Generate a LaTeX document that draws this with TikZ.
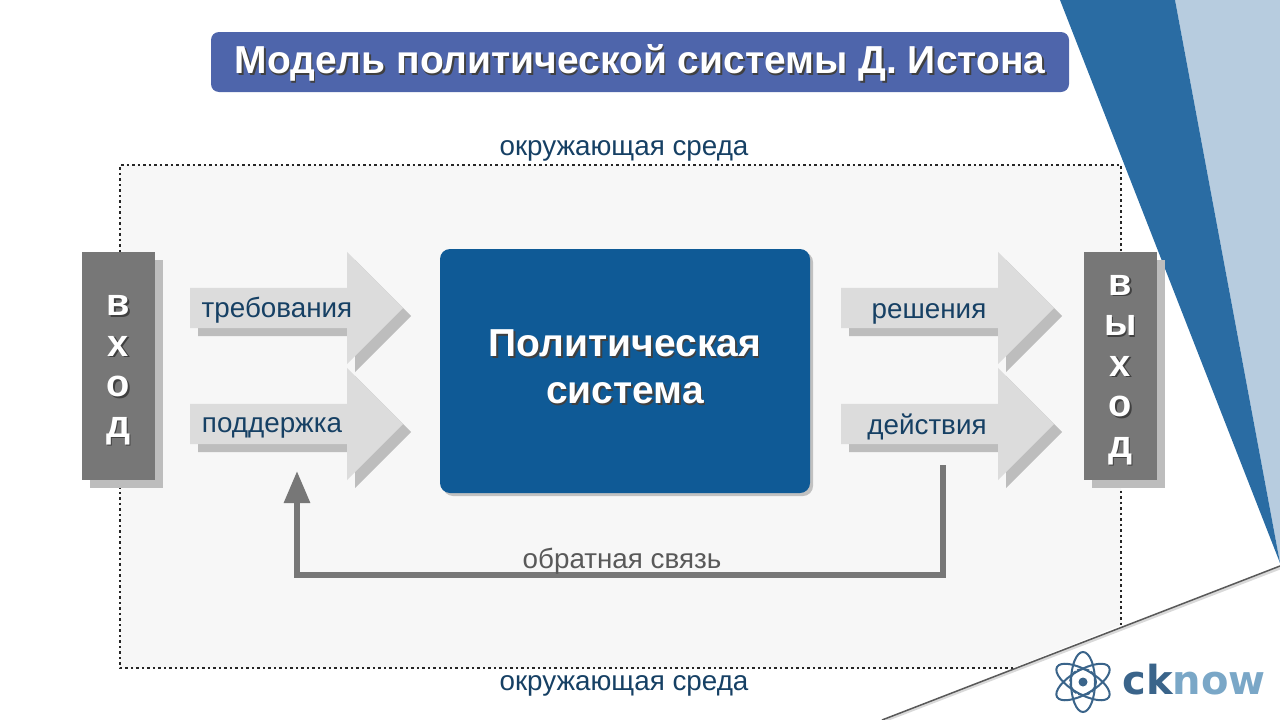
\documentclass[tikz,border=0pt]{standalone}
\usepackage{fontspec}
\setmainfont{Liberation Sans}
\newfontfamily\logofont{DejaVu Sans}
\usetikzlibrary{shapes.arrows, arrows.meta, positioning, shadows}
\definecolor{EastonBlue}{RGB}{15, 90, 150}
\definecolor{EastonTitle}{RGB}{78, 101, 171}
\definecolor{EastonGray}{RGB}{119, 119, 119}
\definecolor{EastonShade}{RGB}{189, 189, 189}
\definecolor{EastonArrow}{RGB}{220, 220, 220}
\definecolor{EastonInk}{RGB}{22, 64, 100}
\definecolor{EastonField}{RGB}{247, 247, 247}
\definecolor{CornerBlue}{RGB}{42, 108, 163}
\definecolor{CornerLight}{RGB}{183, 204, 223}
\definecolor{LogoDark}{RGB}{58, 100, 138}
\definecolor{LogoLight}{RGB}{122, 167, 199}
\newcommand{\liftedtext}[1]{\leavevmode\rlap{\kern1.5pt\raisebox{-1.5pt}{\textcolor{black!75}{#1}}}#1}
\tikzset{
  flowarrow/.style={single arrow, single arrow head extend=36pt, draw=none, fill=EastonArrow,
    inner sep=0pt, text height=40pt, text depth=0pt, text width=0pt, anchor=tail,
    drop shadow={shadow xshift=8pt, shadow yshift=-8pt, opacity=1, fill=EastonShade}},
  flowlabel/.style={text=EastonInk, font=\fontsize{27.8}{32}\selectfont},
  sidebox/.style={fill=EastonGray, minimum width=73pt, minimum height=228pt, inner sep=0pt,
    text=white, align=center, font=\fontsize{38}{40.5}\selectfont\bfseries,
    drop shadow={shadow xshift=8pt, shadow yshift=-8pt, opacity=1, fill=EastonShade}},
  feedline/.style={draw=EastonGray, line width=6pt, -{Triangle[width=25pt, length=32pt]}},
}

\begin{document}
\begin{tikzpicture}[x=1pt, y=-1pt]
    \useasboundingbox (0,0) rectangle (1280,720);
    % Corner
    \fill[CornerLight] (1175,0) -- (1280,0) -- (1280,563) -- cycle;
    \fill[CornerBlue] (1060,0) -- (1175,0) -- (1280,563) -- cycle;
    \draw[black!15, line width=3pt] (1280,568) -- (886,720);
    \draw[black!65, line width=1.5pt] (1280,566) -- (882,720);

    % Field
    \fill[EastonField] (120,165) -- (1121,165) -- (1121,625) -- (1013,668) -- (120,668) -- cycle;
    \draw[black!85, line width=1.4pt, dash pattern=on 2.5pt off 3pt]
      (1013,668) -- (120,668) -- (120,165) -- (1121,165) -- (1121,625);
    \node[flowlabel] (fieldtop) at (624,151) {окружающая среда};
    \node[flowlabel] (fieldbottom) at (624,686) {окружающая среда};

    % Title
    \node[fill=EastonTitle, rounded corners=8pt, minimum width=858pt, minimum height=60pt, inner sep=0pt] (title) at (640,62) {};
    \node[text=white, font=\fontsize{39}{44}\selectfont\bfseries, inner sep=0pt] (titletext) at (640,64) {\liftedtext{Модель политической системы Д. Истона}};

    % Input
    \node[sidebox] (input) at (118.5,366) {\rule{0pt}{30pt}\liftedtext{в}\\\liftedtext{х}\\\liftedtext{о}\\\liftedtext{д}};

    % Output
    \node[sidebox] (output) at (1120.5,366) {\rule{0pt}{30pt}\liftedtext{в}\\\liftedtext{ы}\\\liftedtext{х}\\\liftedtext{о}\\\liftedtext{д}};

    % Arrows
    \node[flowarrow, minimum height=213pt] (demands) at (190,308) {};
    \node[flowarrow, minimum height=213pt] (support) at (190,424) {};
    \node[flowarrow, minimum height=213pt] (decisions) at (841,308) {};
    \node[flowarrow, minimum height=213pt] (actions) at (841,424) {};
    \node[flowlabel] (demandstext) at (277,310) {требования};
    \node[flowlabel] (supporttext) at (272,428) {поддержка};
    \node[flowlabel] (decisionstext) at (929,314) {решения};
    \node[flowlabel] (actionstext) at (927,427) {действия};

    % Core
    \node[fill=EastonBlue, rounded corners=10pt, minimum width=370pt, minimum height=244pt, inner sep=0pt,
      text=white, align=center, font=\fontsize{39}{47}\selectfont\bfseries,
      drop shadow={shadow xshift=3pt, shadow yshift=-3pt, opacity=.45}] (core) at (625,371)
      {\liftedtext{Политическая}\\\liftedtext{система}\rule[-8pt]{0pt}{1pt}};

    % Feedback
    \coordinate (feedstart) at (943,465);
    \coordinate (feedlow) at (620,575);
    \coordinate (feedend) at (297,471);
    \draw[feedline] (feedstart) |- (feedlow) -| (feedend);
    \node[flowlabel, text=black!65, above=-3pt of feedlow, xshift=2pt] (feedtext) {обратная связь};

    % Logo
    \node[font=\logofont\fontsize{40}{46}\selectfont\bfseries, inner sep=0pt] (logotext) at (1194,680)
      {\textcolor{LogoDark}{ck}\textcolor{LogoLight}{now}};
    \node[circle, fill=LogoDark, minimum size=9pt, inner sep=0pt] (atom) at (1083,682) {};
    \draw[LogoDark, line width=2pt, dash pattern=on 12pt off 2pt] (atom) circle (13pt);
    \foreach \ang in {30,90,150}
      \draw[LogoDark, line width=2pt, rotate around={\ang:(atom)}] (atom) ellipse (30pt and 12pt);
\end{tikzpicture}
\end{document}
